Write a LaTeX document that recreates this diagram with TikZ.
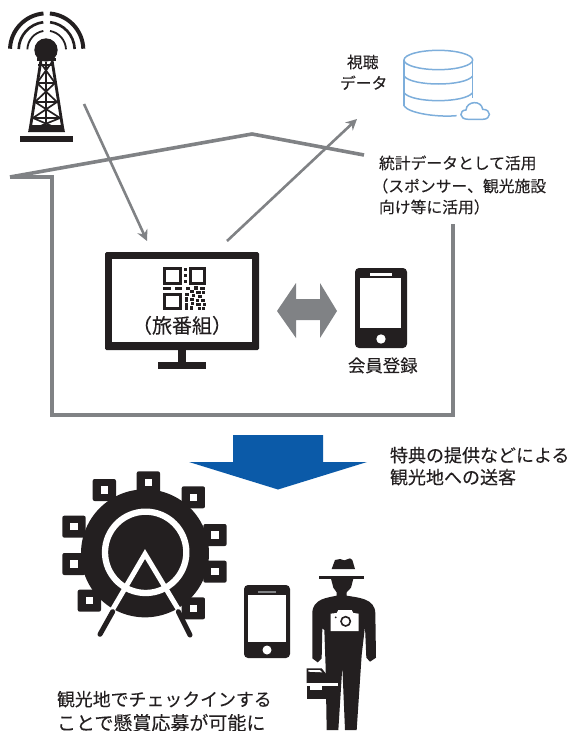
\documentclass[tikz,border=0pt]{standalone}
\usepackage{fontspec}
\usetikzlibrary{arrows.meta,calc}
\newfontfamily\jpf[FakeBold=0.12]{Noto Sans CJK JP}
\definecolor{lgray}{HTML}{808285}
\definecolor{iconk}{HTML}{231F20}
\definecolor{dbblue}{HTML}{7DAEDB}
\definecolor{bluearrow}{HTML}{0B5AA8}
\tikzset{
  x=1pt,y=-1pt,
  wall/.style={draw=lgray,line width=3.6pt,line join=miter},
  flow/.style={draw=lgray,line width=2.6pt,-{Stealth[length=11pt,width=11pt]}},
  lab/.style={anchor=base west,inner sep=0pt,outer sep=0pt,text=iconk},
  ic/.style={fill=iconk,draw=none},
  dbl/.style={draw=dbblue,line width=1.5pt},
}
\begin{document}
\begin{tikzpicture}
\useasboundingbox (0,0) rectangle (569,731);
% ---------- coordinates of connectors
\coordinate (towerout) at (84,104);
\coordinate (tvin) at (147,241);
\coordinate (tvout) at (227,241);
\coordinate (datain) at (357,119);
\coordinate (roofL) at (10,177);
\coordinate (roofT) at (252,134);
\coordinate (roofR) at (364,155);
\coordinate (eave) at (52,177);
\coordinate (wallBL) at (52,415);
\coordinate (wallBR) at (453,415);
\coordinate (wallTR) at (453,224);
% house
\draw[wall] (roofL) -- (roofT) -- (roofR);
\draw[wall] (roofL) -- (eave) -- (wallBL) -- (wallBR) -- (wallTR);
% arrows
\draw[flow] (towerout) -- (tvin);
\draw[flow] (tvout) -- (datain);
% tower
\begin{scope}[scale=1/3]
  \foreach \r/\w/\a/\b in {110/12/178/95,84/8/178/97,58/5.5/178/100}{
    \draw[iconk,line width=\w*0.33pt] ($(140,150)+({\r*cos(\a)},{-\r*sin(\a)})$) arc[start angle=-\a,end angle=-\b,radius=\r];
    \draw[iconk,line width=\w*0.33pt] ($(140,150)+({\r*cos(2)},{-\r*sin(2)})$) arc[start angle=-2,end angle=-(180-\b),radius=\r];
  }
\end{scope}
\fill[iconk] (46,50) circle[radius=11.7];
\fill[iconk] (37,58) rectangle (56,61);
\fill[iconk] (20,136) rectangle (72.5,142);
\fill[iconk] (30,125) -- (63,125) -- (65,132) -- (28,132) -- cycle;
\begin{scope}[iconk,line width=1.7pt]
  \draw[line width=2.8pt] (41,60) -- (30,130);
  \draw[line width=2.8pt] (52,60) -- (63,130);
  \draw (38,65)--(54,65);
  \draw (36.5,83)--(55.5,83);
  \draw (34.5,102)--(58,102);
  \draw (32,118)--(61,118);
  \draw (40,62)--(55,83)--(35,102)--(60,118)--(38,127);
  \draw (52,62)--(37,83)--(57,102)--(33,118)--(54,127);
  \draw (46,62)--(46,124);
\end{scope}
% database
\begin{scope}[shift={(280,30)},scale=1/3]
  \draw[dbl] (475,90) ellipse[x radius=103,y radius=29];
  \draw[dbl] (372,90) -- (372,228);
  \draw[dbl] (578,90) -- (578,205);
  \draw[dbl] (372,138) .. controls (395,170) and (555,170) .. (578,138);
  \draw[dbl] (372,188) .. controls (395,220) and (555,220) .. (578,188);
  \draw[dbl] (372,228) .. controls (390,252) and (480,262) .. (530,257);
  \draw[dbl] (565,268) .. controls (535,268) and (538,240) .. (558,240)
     .. controls (560,212) and (605,210) .. (608,238)
     .. controls (635,238) and (635,268) .. (608,268) -- cycle;
\end{scope}
% monitor
\fill[iconk,rounded corners=1.5pt] (105,252) rectangle (259,350);
\fill[white] (112,259) rectangle (252,342);
\fill[iconk] (178,350) rectangle (186,362);
\fill[iconk] (158,362) rectangle (206,369);
% QR
\begin{scope}[shift={(163,267)}]
  \foreach \cx/\cy/\cw/\ch in {0/0/19/18,25.5/0/17/18,0/26/19/17}{
    \fill[iconk] (\cx,\cy) rectangle ++(\cw,\ch);
    \fill[white] (\cx+3,\cy+3) rectangle ++(\cw-6,\ch-6);
  }
  \foreach \qx/\qy/\qw/\qh in {21/1/3/3,21/7/3/3,21/13/3/3,0/20/8/3,12/20/7/3,
    23/20/4/3,31/19/4/4,37/20/5/3,27/23/4/3,33/24/5/3,39/24/3/3,
    22/26/4/3,29/27/3/3,35/28/4/3,22/30/3/5,27/31/4/3,33/32/3/3,38/32/4/3,
    22/36/3/7,28/35/3/3,33/36/5/3,40/36/3/3,27/39/3/4,35/40/3/3,39/40/3/3}
    \fill[iconk] (\qx,\qy) rectangle ++(\qw,\qh);
\end{scope}
% double arrow
\fill[lgray] (277,311) -- (296,283) -- (296,299) -- (320,299) -- (320,283) -- (337,311) -- (320,338) -- (320,320) -- (296,320) -- (296,338) -- cycle;
% phones
\newcommand{\myphone}[9]{%
  \fill[iconk,rounded corners=4pt] (#1,#2) rectangle (#3,#4);
  \fill[white] (#5,#6) rectangle (#7,#8);
  #9}
\myphone{355}{268}{407}{348}{360}{278}{401}{328}{\fill[white] (370,273) rectangle (392,276);\fill[white] (381,339) circle[radius=4.7];}
\myphone{244}{585}{290}{658}{248}{595}{286}{642}{\fill[lgray] (258,591) rectangle (276,593);\fill[white] (267,650) circle[radius=4.5];}
% blue arrow
\fill[bluearrow] (233,435) -- (323,435) -- (323,462) -- (367,462) -- (278,489.5) -- (189,462) -- (233,462) -- cycle;
% ferris wheel
\begin{scope}[shift={(50,470)},scale=1/3]
  \fill[iconk] (285,250) circle[radius=192];
  \foreach \sx/\sy in {295/37,163/60,430/82,72/170,72/282,495/195,495/305,118/392,430/415}{
    \fill[iconk,rounded corners=2pt] (\sx-35,\sy-33) rectangle (\sx+35,\sy+33);
    \fill[white] (\sx-11,\sy-11) rectangle (\sx+11,\sy+11);
  }
  \draw[white,line width=6.3pt] (287,247) circle[radius=122];
  \draw[white,line width=5pt,line join=miter] (188,418) -- (285,252) -- (385,418);
  \draw[iconk,line width=5pt,line cap=round] (188,425) -- (150,493);
  \draw[iconk,line width=5pt,line cap=round] (385,425) -- (420,495);
\end{scope}
% person
\begin{scope}[shift={(305,555)},scale=1/3]
  \fill[iconk] (80,42) -- (90,15) -- (105,12) -- (118,16) -- (135,10) -- (142,15) -- (150,42) -- cycle;
  \fill[iconk] (43,63) rectangle (178,71);
  \fill[iconk] (78,71) -- (145,71) -- (138,98) -- (125,112) -- (125,122)
    .. controls (160,128) and (210,130) .. (211,175)
    -- (213,308) -- (195,320) -- (184,308) -- (180,215) -- (170,300) -- (155,525) -- (120,525) -- (112,335) -- (100,525) -- (65,525) -- (62,340) -- (58,225) -- (52,220) -- (50,310) -- (38,322) -- (22,310) -- (22,175)
    .. controls (22,130) and (70,128) .. (95,122) -- (95,112) -- (85,98) -- cycle;
  \fill[white] (77,176) -- (95,174) -- (100,165) -- (140,165) -- (145,174) -- (161,176) -- (161,228) -- (77,228) -- cycle;
  \draw[iconk,line width=1.6pt] (122,199) circle[radius=14];
  \fill[iconk] (92,187) circle[radius=3];
  \fill[iconk] (5,340) -- (50,340) -- (62,355) -- (65,360) -- (65,384) -- (5,384) -- cycle;
  \fill[white] (10,345) -- (45,345) -- (52,352) -- (10,350) -- cycle;
  \fill[iconk] (5,392) rectangle (65,432);
  \fill[white] (5,384) rectangle (100,392);
  \fill[white] (15,392) rectangle (50,405);
\end{scope}
% text
\begin{scope}[font=\jpf]
  \node[lab,font=\jpf\fontsize{15.8}{18}\selectfont] (t1) at (347,68) {視聴};
  \node[lab,font=\jpf\fontsize{15.8}{18}\selectfont] (t2) at (340,89) {データ};
  \node[lab,font=\jpf\fontsize{15.8}{18}\selectfont] (t3) at (379,169) {統計データとして活用};
  \node[lab,font=\jpf\fontsize{15.8}{18}\selectfont] (t4) at (372.5,192) {（スポンサー、観光施設};
  \node[lab,font=\jpf\fontsize{15.8}{18}\selectfont] (t5) at (379,213) {向け等に活用）};
  \node[lab,font=\jpf\fontsize{20}{22}\selectfont] (t6) at (132,333) {（旅番組）};
  \node[lab,font=\jpf\fontsize{17.4}{18}\selectfont] (t7) at (348,372) {会員登録};
  \node[lab,font=\jpf\fontsize{18}{20}\selectfont] (t8) at (390,462) {特典の提供などによる};
  \node[lab,font=\jpf\fontsize{18}{20}\selectfont] (t9) at (390,484) {観光地への送客};
  \node[lab,font=\jpf\fontsize{17.9}{20}\selectfont] (t10) at (57,706) {観光地でチェックインする};
  \node[lab,font=\jpf\fontsize{19}{20}\selectfont] (t11) at (57,730) {ことで懸賞応募が可能に};
\end{scope}
\end{tikzpicture}
\end{document}
